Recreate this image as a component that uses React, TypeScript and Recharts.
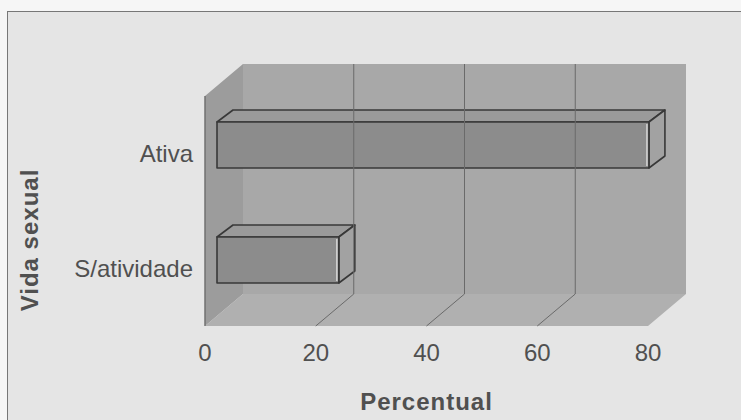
import { Bar, BarChart, Label, ReferenceArea, ReferenceLine, XAxis, YAxis } from "recharts";

const categorias = ["Ativa", "S/atividade"];
const percentuais = [78, 22];
const xTicks = [0, 20, 40, 60, 80];
const gridTicks = [20, 40, 60];

const data = categorias.map((categoria, i) => ({ categoria, valor: percentuais[i] }));

// 3D look, in px
const DX = 38;
const DY = -32;
const BAR_OFF_X = 12;
const BAR_OFF_Y = -9;
const BAR_DX = 16;
const BAR_DY = -12;

const TEXT = "#505050";
const FONT = "'Liberation Sans', Arial, sans-serif";

function Walls(props: any) {
	const { x, y, width, height } = props;
	const l = x;
	const t = y;
	const r = x + width;
	const b = y + height;
	return (
		<g>
			<rect x={l + DX} y={t + DY} width={width} height={height} fill="#a8a8a8" />
			<polygon
				points={`${l},${t} ${l + DX},${t + DY} ${l + DX},${b + DY} ${l},${b}`}
				fill="#9c9c9c"
			/>
			<polygon
				points={`${l},${b} ${l + DX},${b + DY} ${r + DX},${b + DY} ${r},${b}`}
				fill="#b0b0b0"
			/>
			<line x1={l} y1={t} x2={l} y2={b} stroke="#707070" strokeWidth={1.5} />
		</g>
	);
}

function GridLine(props: any) {
	const { x1, y1, x2, y2 } = props;
	const x = x1;
	const top = Math.min(y1, y2);
	const bottom = Math.max(y1, y2);
	if (x == null || Number.isNaN(x)) return <g />;
	return (
		<g>
			<line x1={x} y1={bottom} x2={x + DX} y2={bottom + DY} stroke="#6a6a6a" strokeWidth={1} />
			<line x1={x2 + DX} y1={bottom + DY} x2={x2 + DX} y2={top + DY} stroke="#6a6a6a" strokeWidth={1} />
		</g>
	);
}

function Bar3D(props: any) {
	const { x, y, width, height } = props;
	const fx = x + BAR_OFF_X;
	const fy = y + BAR_OFF_Y;
	const rx = fx + width;
	return (
		<g stroke="#383838" strokeWidth={1.6} strokeLinejoin="round">
			<polygon
				points={`${fx},${fy} ${fx + BAR_DX},${fy + BAR_DY} ${rx + BAR_DX},${fy + BAR_DY} ${rx},${fy}`}
				fill="#9a9a9a"
			/>
			<polygon
				points={`${rx},${fy} ${rx + BAR_DX},${fy + BAR_DY} ${rx + BAR_DX},${fy + height + BAR_DY} ${rx},${fy + height}`}
				fill="#a2a2a2"
			/>
			<rect x={fx} y={fy} width={width} height={height} fill="#8c8c8c" />
			<line x1={rx - 2} y1={fy + 2} x2={rx - 2} y2={fy + height - 2} stroke="#d4d4d4" strokeWidth={1.5} />
		</g>
	);
}

export default function App() {
	return (
		<div style={{ position: "absolute", left: 0, top: 0, width: 741, height: 420, background: "#f6f6f6", overflow: "hidden" }}>
			<div
				style={{
					position: "absolute",
					left: 7,
					top: 11,
					width: 800,
					height: 500,
					background: "#e5e5e5",
					borderTop: "1.5px solid #777",
					borderLeft: "1.5px solid #777",
				}}
			/>
			<div style={{ position: "absolute", left: 0, top: 0 }}>
				<BarChart
					width={741}
					height={420}
					data={data}
					layout="vertical"
					margin={{ top: 96, right: 93, bottom: 34, left: 0 }}
					barSize={46}
				>
					<ReferenceArea x1={0} x2={80} shape={Walls} fillOpacity={1} />
					{gridTicks.map((t) => (
						<ReferenceLine key={t} x={t} shape={GridLine} />
					))}
					<XAxis
						type="number"
						domain={[0, 80]}
						ticks={xTicks}
						axisLine={false}
						tickLine={false}
						tickSize={0}
						tickMargin={18}
						height={60}
						tick={{ fontSize: 24, fill: TEXT, fontFamily: FONT }}
					>
						<Label
							content={({ viewBox }: any) => (
								<text
									x={viewBox.x + viewBox.width / 2}
									y={410}
									textAnchor="middle"
									fontSize={24}
									fontWeight="bold"
									letterSpacing={1}
									fill={TEXT}
									fontFamily={FONT}
								>
									Percentual
								</text>
							)}
						/>
					</XAxis>
					<YAxis
						type="category"
						dataKey="categoria"
						width={205}
						axisLine={false}
						tickLine={false}
						tickSize={0}
						tickMargin={12}
						tick={{ fontSize: 24, fill: TEXT, fontFamily: FONT }}
					>
						<Label
							content={() => (
								<text
									x={38}
									y={240}
									transform="rotate(-90 38 240)"
									textAnchor="middle"
									fontSize={24}
									fontWeight="bold"
									letterSpacing={1}
									fill={TEXT}
									fontFamily={FONT}
								>
									Vida sexual
								</text>
							)}
						/>
					</YAxis>
					<Bar dataKey="valor" shape={Bar3D} isAnimationActive={false} />
				</BarChart>
			</div>
		</div>
	);
}
